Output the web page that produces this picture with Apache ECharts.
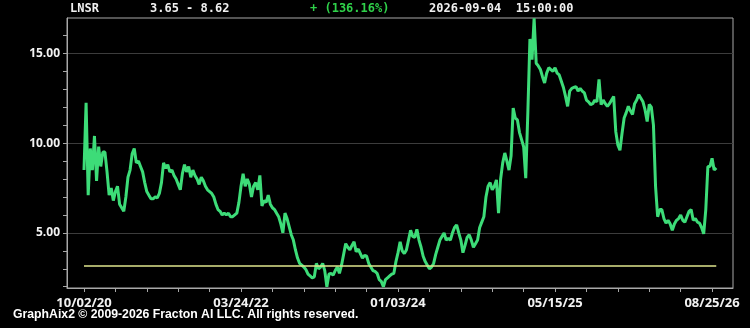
<!DOCTYPE html>
<html>
<head>
<meta charset="utf-8">
<script src="https://cdn.jsdelivr.net/npm/echarts@6/dist/echarts.min.js"></script>
<style>
html,body{margin:0;padding:0;background:#000;}
#c{width:750px;height:328px;}
</style>
</head>
<body>
<div id="c"></div>
<script>
// ---- data ----
const symbol = 'LNSR';
const rangeText = '3.65 - 8.62';
const changeText = '+ (136.16%)';
const stampText = '2026-09-04  15:00:00';
const footerText = 'GraphAix2 \u00A9 2009-2026 Fracton AI LLC. All rights reserved.';
const xTickLabels = ['10/02/20', '03/24/22', '01/03/24', '05/15/25', '08/25/26'];
const xLabelIndex = [0, 75, 150, 225, 300];
const xMinorTickIndex = [0,15,30,45,60,75,90,105,120,135,150,165,180,195,210,225,240,255,270,285,300];
const yLabelValues = [5, 10, 15];
const yMinorTickValues = [2,3,4,5,6,7,8,9,10,11,12,13,14,15,16];
const yMin = 1.93, yMax = 16.97;
const refLevel = 3.17;
const prices = [
 8.5,12.25,7.1,9.7,8.5,10.4,7.9,9.8,8.7,9.5,
 9.5,8.4,7.1,7.5,6.8,7.3,7.6,6.6,6.4,6.2,
 7.0,8.1,8.5,9.4,9.7,8.9,9.0,8.7,8.4,7.8,
 7.3,7.1,6.9,6.9,7.0,6.95,7.2,7.8,8.9,8.6,
 8.8,8.4,8.5,8.2,8.0,7.7,7.4,8.3,8.8,8.4,
 8.7,8.1,8.5,8.2,8.0,7.7,8.1,7.9,7.6,7.4,
 7.3,7.2,7.0,6.6,6.3,6.2,6.0,6.1,6.0,6.1,
 5.9,5.9,6.0,6.1,6.7,7.6,8.3,7.6,8.0,7.7,
 7.0,7.6,7.8,7.4,8.2,6.5,6.8,6.7,7.1,6.6,
 6.4,6.3,6.1,5.9,5.5,5.0,6.1,5.8,5.35,4.9,
 4.6,4.05,3.6,3.3,3.2,3.1,2.95,2.7,2.6,2.5,
 2.55,3.3,3.0,3.1,3.3,2.9,2.0,2.7,2.75,2.65,
 2.9,3.1,2.75,3.2,3.8,4.4,4.2,4.05,4.3,4.5,
 3.95,4.1,3.85,3.6,3.75,3.7,3.3,3.1,2.9,2.85,
 2.75,2.4,2.3,2.0,2.4,2.5,2.6,2.7,2.75,3.4,
 3.9,4.5,4.0,3.85,4.05,4.6,5.15,4.8,4.75,5.2,
 4.6,4.2,3.7,3.4,3.2,3.0,3.1,3.3,3.8,4.2,
 4.6,4.8,5.0,4.6,4.7,4.6,5.0,5.3,5.45,5.0,
 4.6,3.9,4.3,4.75,4.9,4.6,4.2,4.4,4.6,5.3,
 5.6,5.9,7.0,7.6,7.8,7.4,7.6,7.95,6.1,8.0,
 8.9,9.45,9.0,8.5,9.3,11.95,11.4,11.3,10.6,10.2,
 9.8,8.05,11.7,15.8,14.65,16.95,14.45,14.3,14.1,13.7,
 13.35,13.9,14.2,14.1,14.0,14.2,13.9,13.8,13.45,13.1,
 12.6,12.05,12.9,13.05,13.1,13.15,12.9,13.05,12.9,12.8,
 12.4,12.3,12.15,12.2,12.4,12.3,13.55,12.15,12.4,12.2,
 12.05,12.2,12.4,12.6,10.65,9.9,9.6,10.55,11.4,11.7,
 12.05,11.8,11.6,12.2,12.4,12.7,12.5,12.3,11.85,11.2,
 12.15,12.0,11.0,7.6,5.9,6.3,6.3,5.8,5.55,5.7,
 5.5,5.15,5.5,5.7,5.8,6.0,5.7,5.6,5.9,6.2,
 6.3,5.7,5.8,5.6,5.55,5.3,4.95,6.3,8.7,8.7,
 9.15,8.5,8.62
];

// ---- chart ----
const chart = echarts.init(document.getElementById('c'), null, {renderer: 'canvas'});
const seriesData = prices.map((v, i) => [i, v]);
const lastIdx = prices.length - 1;
const frameColor = '#a8a8a8';
const labelFont = {color: '#f2f2f2', fontFamily: 'Open Sans', fontWeight: 'bold'};

chart.setOption({
  backgroundColor: '#000',
  animation: false,
  grid: {left: 67, right: 17, top: 18, bottom: 40, show: true, borderColor: frameColor, borderWidth: 1, backgroundColor: 'transparent'},
  xAxis: {
    type: 'value', min: -8.12, max: 310,
    axisLine: {show: true, onZero: false, lineStyle: {color: frameColor}},
    axisTick: {show: true, length: 4, customValues: xMinorTickIndex, lineStyle: {color: frameColor}},
    axisLabel: {show: true, customValues: xLabelIndex, margin: 9, fontSize: 13, ...labelFont,
      formatter: v => xTickLabels[xLabelIndex.indexOf(Math.round(v))] || ''},
    splitLine: {show: false}
  },
  yAxis: [{
    type: 'value', min: yMin, max: yMax, position: 'left',
    axisLine: {show: true, onZero: false, lineStyle: {color: frameColor}},
    axisTick: {show: true, length: 4, customValues: yLabelValues, lineStyle: {color: frameColor}},
    axisLabel: {show: true, customValues: yLabelValues, margin: 7, fontSize: 12, ...labelFont,
      formatter: v => v.toFixed(2)},
    splitLine: {show: true, lineStyle: {color: '#3c3c3c', width: 1}}
  }, {
    type: 'value', min: yMin, max: yMax, position: 'left', offset: 0,
    axisLine: {show: false, onZero: false},
    axisTick: {show: true, length: 4, customValues: yMinorTickValues, lineStyle: {color: frameColor}},
    axisLabel: {show: false},
    splitLine: {show: false}
  }],
  series: [{
    type: 'line', data: seriesData, yAxisIndex: 0, showSymbol: false, symbol: 'none',
    lineStyle: {color: '#3ddc78', width: 3}, z: 3,
    markLine: {
      silent: true, symbol: ['none', 'none'], label: {show: false},
      lineStyle: {color: '#dfe68e', width: 1.5, type: 'solid'},
      data: [[{coord: [0, refLevel]}, {coord: [lastIdx, refLevel]}]]
    }
  }],
  graphic: [
    {type: 'text', left: 70, top: 3, style: {text: symbol, fill: '#f0f0f0', font: 'bold 12px "DejaVu Sans Mono"'}},
    {type: 'text', left: 150, top: 3, style: {text: rangeText, fill: '#f0f0f0', font: 'bold 12px "DejaVu Sans Mono"'}},
    {type: 'text', left: 310, top: 3, style: {text: changeText, fill: '#2fd14a', font: 'bold 12px "DejaVu Sans Mono"'}},
    {type: 'text', left: 429, top: 3, style: {text: stampText, fill: '#f0f0f0', font: 'bold 12px "DejaVu Sans Mono"'}},
    {type: 'text', left: 13, top: 309, style: {text: footerText, fill: '#ffffff', font: 'bold 12.25px "Liberation Sans"'}}
  ]
});
</script>
</body>
</html>
